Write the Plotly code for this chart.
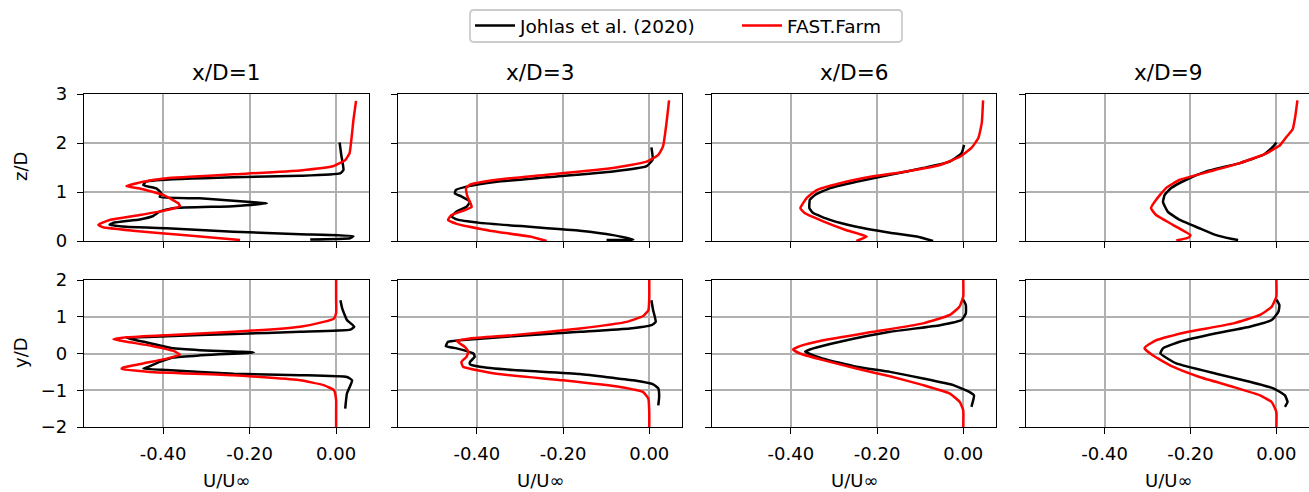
import plotly.graph_objects as go

# ---------------- data ----------------
titles = ["x/D=1", "x/D=3", "x/D=6", "x/D=9"]
series_names = ["Johlas et al. (2020)", "FAST.Farm"]
x_tickvals = [-0.4, -0.2, 0.0]
x_ticktext = ["-0.40", "-0.20", "0.00"]
z_tickvals = [0, 1, 2, 3]
z_ticktext = ["0", "1", "2", "3"]
y_tickvals = [-2, -1, 0, 1, 2]
y_ticktext = ["\u22122", "\u22121", "0", "1", "2"]

# x/D=1, vertical profile (z/D)
johlas_z1_u = [0.008, 0.012, 0.017, 0.009, -0.083, -0.238, -0.415, -0.44, -0.446, -0.415, -0.404, -0.408, -0.315, -0.19, -0.16, -0.238, -0.377, -0.408, -0.423, -0.454, -0.516, -0.524, -0.485, -0.392, -0.238, -0.083, 0.04, 0.032, -0.06]
johlas_z1_z = [2.01, 1.75, 1.45, 1.38, 1.33, 1.30, 1.24, 1.21, 1.14, 1.07, 0.97, 0.90, 0.87, 0.79, 0.77, 0.71, 0.67, 0.60, 0.51, 0.44, 0.37, 0.33, 0.29, 0.26, 0.19, 0.14, 0.10, 0.055, 0.03]
ff_z1_u = [0.046, 0.04, 0.031, 0.021, -0.006, -0.083, -0.238, -0.392, -0.446, -0.485, -0.454, -0.40, -0.365, -0.361, -0.392, -0.454, -0.524, -0.55, -0.539, -0.47, -0.354, -0.222]
ff_z1_z = [2.86, 2.47, 1.79, 1.65, 1.53, 1.44, 1.36, 1.28, 1.21, 1.12, 1.07, 0.94, 0.77, 0.71, 0.63, 0.53, 0.43, 0.33, 0.28, 0.21, 0.12, 0.02]
# x/D=1, horizontal profile (y/D)
johlas_y1_u = [0.01, 0.014, 0.025, 0.042, 0.033, -0.083, -0.237, -0.392, -0.484, -0.438, -0.376, -0.315, -0.19, -0.315, -0.376, -0.408, -0.438, -0.446, -0.392, -0.237, -0.083, 0.025, 0.037, 0.025, 0.021]
johlas_y1_y = [1.45, 1.23, 0.91, 0.73, 0.65, 0.59, 0.53, 0.47, 0.42, 0.30, 0.14, 0.09, 0.03, -0.05, -0.11, -0.23, -0.38, -0.41, -0.45, -0.55, -0.59, -0.64, -0.73, -1.09, -1.5]
ff_y1_u = [0, 0, 0, -0.005, -0.029, -0.083, -0.237, -0.392, -0.484, -0.515, -0.484, -0.423, -0.376, -0.361, -0.392, -0.446, -0.492, -0.496, -0.431, -0.237, -0.083, -0.029, -0.005, 0, 0, 0]
ff_y1_y = [2.0, 1.5, 1.1, 0.95, 0.86, 0.73, 0.59, 0.50, 0.44, 0.39, 0.32, 0.20, 0.07, -0.03, -0.14, -0.27, -0.38, -0.42, -0.50, -0.59, -0.73, -0.86, -1.0, -1.27, -1.6, -2.0]

# x/D=3
johlas_z3_u = [0.005, 0.008, -0.006, -0.084, -0.238, -0.354, -0.424, -0.449, -0.451, -0.436, -0.416, -0.424, -0.447, -0.459, -0.447, -0.393, -0.277, -0.161, -0.084, -0.037, -0.099]
johlas_z3_z = [1.91, 1.66, 1.53, 1.42, 1.30, 1.21, 1.11, 1.04, 0.97, 0.91, 0.80, 0.70, 0.60, 0.50, 0.44, 0.37, 0.29, 0.21, 0.12, 0.03, 0.02]
ff_z3_u = [0.046, 0.04, 0.032, 0.021, -0.006, -0.084, -0.238, -0.354, -0.416, -0.425, -0.422, -0.412, -0.428, -0.459, -0.467, -0.447, -0.37, -0.277, -0.238]
ff_z3_z = [2.87, 2.41, 1.93, 1.76, 1.62, 1.49, 1.35, 1.25, 1.15, 1.08, 0.91, 0.70, 0.63, 0.53, 0.43, 0.35, 0.21, 0.09, 0.0]
johlas_y3_u = [0.005, 0.009, 0.015, 0.005, -0.045, -0.161, -0.316, -0.44, -0.467, -0.472, -0.447, -0.408, -0.405, -0.416, -0.416, -0.393, -0.316, -0.161, -0.037, 0.009, 0.021, 0.023, 0.021]
johlas_y3_y = [1.45, 1.18, 0.86, 0.77, 0.68, 0.59, 0.47, 0.36, 0.32, 0.20, 0.14, 0.0, -0.09, -0.23, -0.29, -0.36, -0.45, -0.56, -0.73, -0.84, -0.95, -1.18, -1.41]
ff_y3_u = [0, 0, -0.002, -0.014, -0.053, -0.161, -0.316, -0.416, -0.447, -0.428, -0.42, -0.424, -0.436, -0.432, -0.354, -0.20, -0.068, -0.014, -0.002, 0, 0]
ff_y3_y = [2.0, 1.5, 1.18, 1.02, 0.86, 0.68, 0.50, 0.41, 0.34, 0.18, 0.05, -0.09, -0.23, -0.36, -0.55, -0.73, -0.91, -1.05, -1.23, -1.6, -2.0]

# x/D=6
johlas_z6_u = [0.002, -0.004, -0.031, -0.093, -0.17, -0.248, -0.309, -0.344, -0.356, -0.357, -0.348, -0.309, -0.248, -0.17, -0.108, -0.07]
johlas_z6_z = [1.96, 1.79, 1.62, 1.49, 1.35, 1.21, 1.08, 0.94, 0.84, 0.67, 0.57, 0.43, 0.29, 0.17, 0.09, 0.0]
ff_z6_u = [0.046, 0.043, 0.035, 0.019, -0.008, -0.054, -0.132, -0.209, -0.286, -0.34, -0.364, -0.378, -0.368, -0.325, -0.271, -0.224, -0.248]
ff_z6_z = [2.87, 2.41, 2.10, 1.90, 1.72, 1.55, 1.42, 1.32, 1.18, 1.04, 0.87, 0.67, 0.57, 0.40, 0.22, 0.09, 0.0]
johlas_y6_u = [0.0, 0.006, 0.006, -0.004, -0.054, -0.17, -0.286, -0.348, -0.367, -0.325, -0.248, -0.17, -0.093, -0.023, 0.015, 0.025, 0.019]
johlas_y6_y = [1.47, 1.32, 1.09, 0.91, 0.77, 0.59, 0.32, 0.14, 0.05, -0.14, -0.36, -0.50, -0.68, -0.86, -1.05, -1.14, -1.45]
ff_y6_u = [0, 0, -0.009, -0.031, -0.093, -0.209, -0.325, -0.379, -0.395, -0.379, -0.325, -0.248, -0.17, -0.093, -0.031, -0.008, 0, 0]
ff_y6_y = [2.0, 1.55, 1.27, 1.05, 0.82, 0.59, 0.36, 0.20, 0.11, 0.0, -0.18, -0.41, -0.62, -0.86, -1.09, -1.32, -1.55, -2.0]

# x/D=9
johlas_z9_u = [0.0, -0.007, -0.03, -0.085, -0.163, -0.21, -0.245, -0.26, -0.264, -0.253, -0.225, -0.179, -0.14, -0.108, -0.089]
johlas_z9_z = [2.01, 1.93, 1.76, 1.59, 1.42, 1.25, 1.08, 0.94, 0.80, 0.60, 0.43, 0.26, 0.12, 0.05, 0.02]
ff_z9_u = [0.049, 0.044, 0.038, 0.024, 0.009, -0.023, -0.085, -0.163, -0.225, -0.257, -0.28, -0.292, -0.28, -0.241, -0.2, -0.204, -0.233]
ff_z9_z = [2.87, 2.54, 2.28, 2.13, 1.96, 1.79, 1.59, 1.40, 1.25, 1.08, 0.84, 0.67, 0.53, 0.33, 0.12, 0.07, 0.01]
johlas_y9_u = [0.0, 0.007, 0.005, -0.011, -0.062, -0.14, -0.225, -0.264, -0.27, -0.233, -0.14, -0.062, -0.007, 0.02, 0.026, 0.02]
johlas_y9_y = [1.47, 1.32, 1.14, 0.91, 0.73, 0.55, 0.32, 0.14, 0.0, -0.27, -0.55, -0.77, -0.95, -1.14, -1.32, -1.45]
ff_y9_u = [0, 0, -0.011, -0.038, -0.10, -0.218, -0.28, -0.303, -0.307, -0.288, -0.241, -0.179, -0.10, -0.038, -0.011, 0, 0]
ff_y9_y = [2.0, 1.55, 1.27, 1.05, 0.82, 0.56, 0.36, 0.20, 0.14, -0.05, -0.36, -0.64, -0.91, -1.14, -1.32, -1.59, -2.0]

top_panels = [
    (johlas_z1_u, johlas_z1_z, ff_z1_u, ff_z1_z),
    (johlas_z3_u, johlas_z3_z, ff_z3_u, ff_z3_z),
    (johlas_z6_u, johlas_z6_z, ff_z6_u, ff_z6_z),
    (johlas_z9_u, johlas_z9_z, ff_z9_u, ff_z9_z),
]
bottom_panels = [
    (johlas_y1_u, johlas_y1_y, ff_y1_u, ff_y1_y),
    (johlas_y3_u, johlas_y3_y, ff_y3_u, ff_y3_y),
    (johlas_y6_u, johlas_y6_y, ff_y6_u, ff_y6_y),
    (johlas_y9_u, johlas_y9_y, ff_y9_u, ff_y9_y),
]

# ---------------- layout ----------------
W, H = 1309, 492
FONT = "DejaVu Sans"
TICK_FS = 18
TITLE_FS = 21.6
col_px = [(84, 369), (398, 682), (712, 996), (1026, 1310)]
row_px = [(94, 241), (280, 427)]  # top, bottom (pixel y from top)
x_range = [-0.583, 0.076]


def px_x(p):
    return p / W


def px_y(p):
    return (H - p) / H


fig = go.Figure()
layout = dict(
    width=W, height=H,
    margin=dict(l=0, r=0, t=0, b=0, autoexpand=False),
    paper_bgcolor="white", plot_bgcolor="white",
    font=dict(family=FONT, size=TICK_FS, color="black"),
    showlegend=True,
    legend=dict(
        orientation="h", x=px_x(470), xanchor="left", y=px_y(26), yanchor="middle",
        borderwidth=0, bgcolor="rgba(0,0,0,0)",
        font=dict(family=FONT, size=18.5, color="black"),
        itemwidth=40,
        entrywidth=212, entrywidthmode="pixels",
        traceorder="normal",
    ),
)

annotations = []
for r in range(2):
    for c in range(4):
        idx = r * 4 + c + 1
        xa = "xaxis" if idx == 1 else f"xaxis{idx}"
        ya = "yaxis" if idx == 1 else f"yaxis{idx}"
        xref = "x" if idx == 1 else f"x{idx}"
        yref = "y" if idx == 1 else f"y{idx}"
        x0, x1 = col_px[c]
        y0, y1 = row_px[r]
        layout[xa] = dict(
            domain=[px_x(x0), min(1.0, px_x(x1))], anchor=yref, range=x_range,
            tickvals=x_tickvals, ticktext=x_ticktext,
            showticklabels=(r == 1),
            ticks="outside", ticklen=6, tickwidth=1.4, tickcolor="black",
            ticklabelstandoff=4,
            showline=True, linecolor="black", linewidth=1.4, mirror=True,
            showgrid=True, gridcolor="#b0b0b0", gridwidth=1.5,
            zeroline=False, automargin=False,
            tickfont=dict(family=FONT, size=TICK_FS, color="black"),
        )
        if r == 0:
            yv, yt, yr = z_tickvals, z_ticktext, [0, 3]
        else:
            yv, yt, yr = y_tickvals, y_ticktext, [-2, 2]
        layout[ya] = dict(
            domain=[px_y(y1), px_y(y0)], anchor=xref, range=yr,
            tickvals=yv, ticktext=yt,
            showticklabels=(c == 0),
            ticks="outside", ticklen=6, tickwidth=1.4, tickcolor="black",
            ticklabelstandoff=6,
            showline=True, linecolor="black", linewidth=1.4, mirror=True,
            showgrid=True, gridcolor="#b0b0b0", gridwidth=1.5,
            zeroline=False, automargin=False,
            tickfont=dict(family=FONT, size=TICK_FS, color="black"),
        )
        ju, jv, fu, fv = (top_panels if r == 0 else bottom_panels)[c]
        first = (idx == 1)
        fig.add_trace(go.Scatter(
            x=ju, y=jv, mode="lines", name=series_names[0],
            line=dict(color="black", width=2.5, shape="spline", smoothing=0.4),
            xaxis=xref, yaxis=yref, showlegend=first, legendgroup="j",
        ))
        fig.add_trace(go.Scatter(
            x=fu, y=fv, mode="lines", name=series_names[1],
            line=dict(color="red", width=2.5, shape="spline", smoothing=0.4),
            xaxis=xref, yaxis=yref, showlegend=first, legendgroup="f",
        ))
        if r == 0:
            annotations.append(dict(
                text=titles[c], xref="paper", yref="paper",
                x=px_x((x0 + x1) / 2), y=px_y(73), xanchor="center", yanchor="middle",
                showarrow=False, font=dict(family=FONT, size=TITLE_FS, color="black"),
            ))
        else:
            annotations.append(dict(
                text="U/U\u221e", xref="paper", yref="paper",
                x=px_x((x0 + x1) / 2), y=px_y(480.5), xanchor="center", yanchor="middle",
                showarrow=False, borderpad=0,
                font=dict(family=FONT, size=TICK_FS, color="black"),
            ))

annotations.append(dict(text="z/D", xref="paper", yref="paper", x=px_x(20), y=px_y(167),
                        xanchor="center", yanchor="middle", textangle=-90, showarrow=False,
                        font=dict(family=FONT, size=TICK_FS, color="black")))
annotations.append(dict(text="y/D", xref="paper", yref="paper", x=px_x(20), y=px_y(353),
                        xanchor="center", yanchor="middle", textangle=-90, showarrow=False,
                        font=dict(family=FONT, size=TICK_FS, color="black")))
layout["annotations"] = annotations

# legend frame (rounded rectangle, like matplotlib's fancybox)
lx0, lx1, ly0, ly1, rad = 470, 902, 10, 42, 4
rx, ry = rad / W, rad / H
X0, X1, Y0, Y1 = px_x(lx0), px_x(lx1), px_y(ly1), px_y(ly0)
frame_path = (
    f"M {X0 + rx},{Y0} L {X1 - rx},{Y0} Q {X1},{Y0} {X1},{Y0 + ry} "
    f"L {X1},{Y1 - ry} Q {X1},{Y1} {X1 - rx},{Y1} L {X0 + rx},{Y1} "
    f"Q {X0},{Y1} {X0},{Y1 - ry} L {X0},{Y0 + ry} Q {X0},{Y0} {X0 + rx},{Y0} Z"
)
layout["shapes"] = [dict(type="path", xref="paper", yref="paper", path=frame_path,
                         line=dict(color="#cccccc", width=1.8), fillcolor="white", layer="below")]
fig.update_layout(**layout)

fig.write_html(
    "out.html",
    config={"displayModeBar": False},
    post_script="document.body.style.margin='0';document.body.style.overflow='hidden';",
)
